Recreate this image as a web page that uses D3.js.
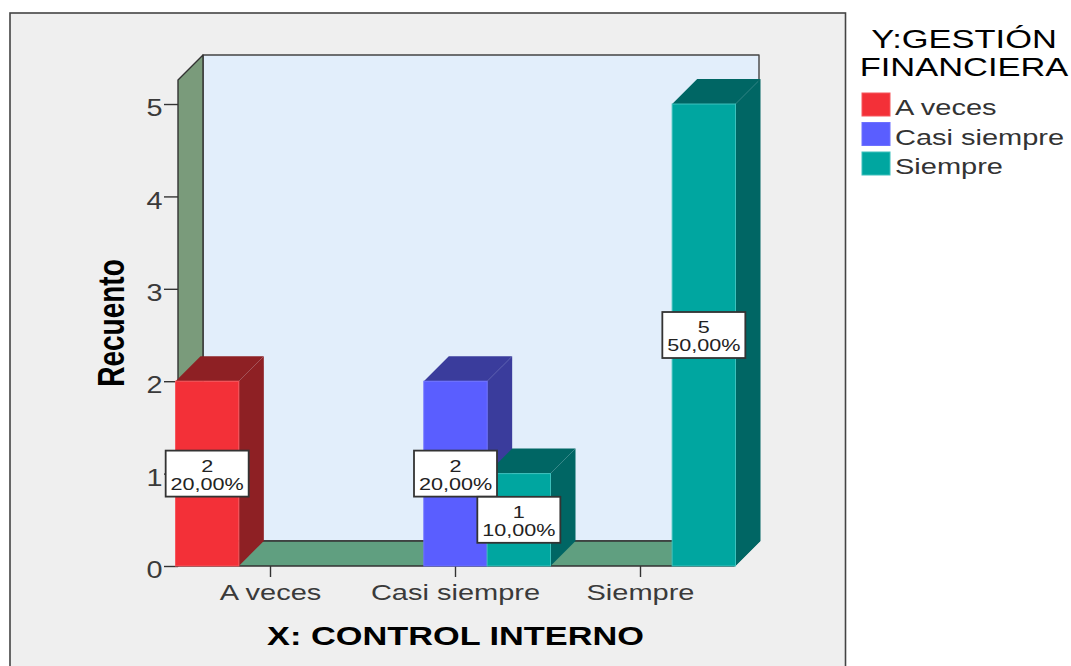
<!DOCTYPE html>
<html>
<head>
<meta charset="utf-8">
<script src="https://cdn.jsdelivr.net/npm/d3@7/dist/d3.min.js"></script>
<style>
html, body { margin: 0; padding: 0; background: #fff; overflow: hidden; }
svg { display: block; font-family: "Liberation Sans", Arial, sans-serif; }
</style>
</head>
<body>
<svg id="chart" width="1071" height="666"></svg>
<script>
// Survey counts per X category, one array per Y response
const categories = ["A veces", "Casi siempre", "Siempre"];
const responses = ["A veces", "Casi siempre", "Siempre"];
const aVecesCounts = [2, 0, 0];
const casiSiempreCounts = [0, 2, 0];
const siempreCounts = [0, 1, 5];
const aVecesPercents = ["20,00%", "", ""];
const casiSiemprePercents = ["", "20,00%", ""];
const siemprePercents = ["", "10,00%", "50,00%"];
const yTicks = [0, 1, 2, 3, 4, 5];
const yMax = 5.26;
const yTitle = "Recuento";
const xTitle = "X: CONTROL INTERNO";
const legendTitle = ["Y:GESTIÓN", "FINANCIERA"];

const faceColors = ["#f33038", "#5a5eff", "#00a6a0"];
const sideColors = ["#8e2024", "#3a3c9c", "#006664"];
const edgeColors = ["#f6565c", "#6d70ff", "#3cc0bc"];
const countsByResponse = [aVecesCounts, casiSiempreCounts, siempreCounts];
const percentsByResponse = [aVecesPercents, casiSiemprePercents, siemprePercents];

// Text in this chart is wider than regular Liberation Sans
const stretch = 1.3;
const depth = 25;
const svg = d3.select("#chart");

const x = d3.scaleBand().domain(categories).range([178, 733]);
const xInner = d3.scaleBand().domain(responses).range([-95, 95]);
const y = d3.scaleLinear().domain([0, yMax]).range([566, 80]);

const plotLeft = x.range()[0], plotRight = x.range()[1];
const plotBase = y(0), plotTop = y(yMax);
const outline = "#333";

// Panel behind the plot; its bottom edge runs off the page
svg.append("rect").attr("x", 10).attr("y", 13).attr("width", 835.5).attr("height", 680)
  .attr("fill", "#efefef").attr("stroke", "#444").attr("stroke-width", 1.6);

const poly = (pts, fill, stroke, parent = svg) => parent.append("polygon")
  .attr("points", pts.map(p => p.join(",")).join(" "))
  .attr("fill", fill)
  .attr("stroke", stroke || "none")
  .attr("stroke-width", stroke ? 1.4 : 0)
  .attr("stroke-linejoin", "round");

// Box walls: back, left side and floor
poly([[plotLeft + depth, plotTop - depth], [plotRight + depth + 1, plotTop - depth], [plotRight + depth + 1, plotBase - depth], [plotLeft + depth, plotBase - depth]], "#e2eefb", "#444");
poly([[plotLeft, plotTop], [plotLeft + depth, plotTop - depth], [plotLeft + depth, plotBase - depth], [plotLeft, plotBase]], "#7a9b7b", outline);
poly([[plotLeft, plotBase], [plotLeft + depth, plotBase - depth], [plotRight + depth + 1, plotBase - depth], [plotRight + 1, plotBase]], "#609f80", outline);

// Axes
const yAxis = svg.append("g").attr("transform", `translate(${plotLeft},0)`)
  .call(d3.axisLeft(y).tickValues(yTicks).tickSize(14).tickFormat(d3.format("d")));
const xAxis = svg.append("g").attr("transform", `translate(0,${plotBase})`)
  .call(d3.axisBottom(x).tickSize(11));
[yAxis, xAxis].forEach(a => {
  a.select(".domain").remove();
  a.selectAll("line").attr("stroke", "#333").attr("stroke-width", 1.4);
  a.selectAll("text").attr("font-family", "Liberation Sans").attr("fill", "#3a3a3a");
});
yAxis.selectAll("text").attr("font-size", 24).attr("x", -15.5 / 1.2).attr("y", 3).attr("dy", "0.36em")
  .attr("transform", "scale(1.2,1)");
xAxis.selectAll("text").attr("font-size", 22.3).attr("y", 18.5).attr("transform", `scale(${stretch},1)`);

// Bars, extruded towards the back wall
const barRows = [];
categories.forEach((c, ci) => responses.forEach((r, ri) => {
  const value = countsByResponse[ri][ci];
  if (value > 0) barRows.push({ category: c, response: r, ri, value, percent: percentsByResponse[ri][ci] });
}));
const cx = d => x(d.category) + x.bandwidth() / 2 + xInner(d.response);

const bars = svg.append("g").selectAll("g").data(barRows).join("g");
bars.each(function (d) {
  const g = d3.select(this);
  const x0 = cx(d), x1 = x0 + xInner.bandwidth(), y0 = y(d.value), y1 = y(0);
  poly([[x1, y0], [x1 + depth, y0 - depth], [x1 + depth, y1 - depth], [x1, y1]], sideColors[d.ri], null, g);
  poly([[x0, y0], [x0 + depth, y0 - depth], [x1 + depth, y0 - depth], [x1, y0]], sideColors[d.ri], null, g);
  g.append("rect").attr("x", x0).attr("y", y0).attr("width", x1 - x0).attr("height", y1 - y0)
    .attr("fill", faceColors[d.ri]).attr("stroke", edgeColors[d.ri]).attr("stroke-width", 1);
});

// Value labels centred on each bar face
const labels = svg.append("g").selectAll("g").data(barRows).join("g")
  .attr("transform", d => `translate(${cx(d) + xInner.bandwidth() / 2},${y(d.value / 2)})`);
labels.append("rect").attr("x", -41.5).attr("y", -23).attr("width", 83).attr("height", 46)
  .attr("fill", "#fff").attr("stroke", "#333").attr("stroke-width", 1.8);
labels.append("text").attr("text-anchor", "middle").attr("y", -2).attr("font-size", 17).attr("fill", "#222")
  .attr("transform", `scale(1.27,1)`).text(d => d.value);
labels.append("text").attr("text-anchor", "middle").attr("y", 16).attr("font-size", 17).attr("fill", "#222")
  .attr("transform", `scale(1.27,1)`).text(d => d.percent);

// Axis titles
svg.append("text").attr("text-anchor", "middle").attr("font-weight", "bold").attr("font-size", 26.4)
  .attr("fill", "#000").attr("transform", `translate(455.5,645) scale(${stretch},1)`).text(xTitle);
svg.append("text").attr("text-anchor", "middle").attr("font-weight", "bold").attr("font-size", 28)
  .attr("fill", "#000").attr("transform", `translate(124,323) rotate(-90) scale(1,${stretch})`).text(yTitle);

// Legend
const legendX = 862;
svg.append("g").selectAll("text").data(legendTitle).join("text")
  .attr("text-anchor", "middle").attr("font-size", 26.5).attr("fill", "#000")
  .attr("transform", (d, i) => `translate(964,${48 + i * 28}) scale(${stretch},1)`).text(d => d);
const legendRows = svg.append("g").selectAll("g").data(responses).join("g")
  .attr("transform", (d, i) => `translate(${legendX},${93 + i * 29.5})`);
legendRows.append("rect").attr("width", 28).attr("height", 23)
  .attr("fill", (d, i) => faceColors[i]).attr("stroke", (d, i) => edgeColors[i]).attr("stroke-width", 1);
legendRows.append("text").attr("font-size", 22.3).attr("fill", "#333")
  .attr("transform", `translate(33,22) scale(${stretch},1)`).text(d => d);
</script>
</body>
</html>
